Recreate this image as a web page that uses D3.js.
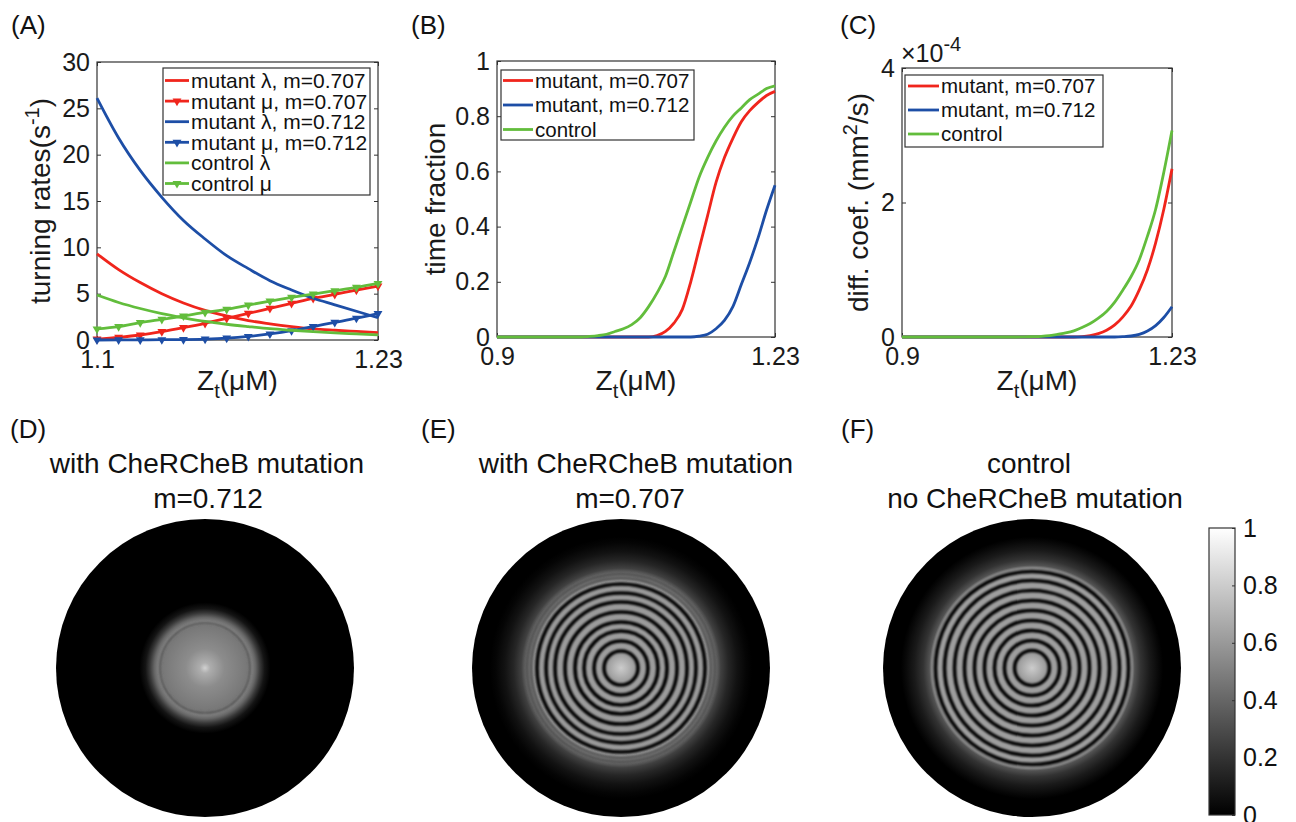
<!DOCTYPE html>
<html>
<head>
<meta charset="utf-8">
<script src="https://cdnjs.cloudflare.com/ajax/libs/d3/7.8.5/d3.min.js"></script>
<style>
  body { margin: 0; background: #fff; }
  svg { font-family: "Liberation Sans", Arial, Helvetica, sans-serif; }
</style>
</head>
<body>
<div id="fig"></div>
<script>
// ---- panel A: turning rates ----
const zA = [1.10, 1.11, 1.12, 1.13, 1.14, 1.15, 1.16, 1.17, 1.18, 1.19, 1.20, 1.21, 1.22, 1.23];
const lamM707 = [9.3, 7.6, 6.2, 5.0, 4.0, 3.2, 2.6, 2.1, 1.75, 1.45, 1.2, 1.05, 0.92, 0.8];
const muM707  = [0.1, 0.29, 0.54, 0.9, 1.33, 1.8, 2.34, 2.87, 3.41, 3.95, 4.49, 4.92, 5.39, 5.82];
const lamM712 = [26.1, 21.8, 18.3, 15.4, 12.9, 10.9, 9.1, 7.7, 6.4, 5.4, 4.5, 3.8, 3.1, 2.4];
const muM712  = [0.0, 0.01, 0.02, 0.03, 0.05, 0.1, 0.2, 0.38, 0.65, 1.0, 1.45, 1.9, 2.35, 2.85];
const lamCtrl = [4.85, 4.05, 3.4, 2.85, 2.4, 2.0, 1.7, 1.45, 1.22, 1.05, 0.9, 0.77, 0.66, 0.56];
const muCtrl  = [1.19, 1.44, 1.87, 2.23, 2.59, 2.98, 3.31, 3.77, 4.2, 4.6, 4.96, 5.32, 5.68, 6.1];
const xTicksA = [1.1, 1.23];
const yTicksA = [0, 5, 10, 15, 20, 25, 30];

// ---- panels B, C: shared Zt grid ----
const zB = [0.90, 0.91, 0.92, 0.93, 0.94, 0.95, 0.96, 0.97, 0.98, 0.99, 1.00, 1.01, 1.02, 1.03, 1.04, 1.05, 1.06,
            1.07, 1.08, 1.09, 1.10, 1.11, 1.12, 1.13, 1.14, 1.15, 1.16, 1.17, 1.18, 1.19, 1.20, 1.21, 1.22, 1.23];
const fracM707 = [0, 0, 0, 0, 0, 0, 0, 0, 0, 0, 0, 0, 0, 0, 0, 0, 0, 0, 0,
                  0.005, 0.02, 0.05, 0.10, 0.20, 0.32, 0.44, 0.56, 0.65, 0.72, 0.78, 0.82, 0.85, 0.875, 0.89];
const fracM712 = [0, 0, 0, 0, 0, 0, 0, 0, 0, 0, 0, 0, 0, 0, 0, 0, 0, 0, 0, 0, 0, 0, 0, 0,
                  0.003, 0.01, 0.03, 0.06, 0.11, 0.19, 0.27, 0.36, 0.46, 0.55];
const fracCtrl = [0, 0, 0, 0, 0, 0, 0, 0, 0, 0, 0,
                  0.002, 0.005, 0.01, 0.02, 0.03, 0.045, 0.07, 0.11, 0.16, 0.22, 0.31, 0.40, 0.49, 0.58, 0.65,
                  0.71, 0.76, 0.80, 0.83, 0.86, 0.88, 0.90, 0.91];
// diffusion coefficient, in units of 1e-4 mm^2/s
const diffM707 = [0, 0, 0, 0, 0, 0, 0, 0, 0, 0, 0, 0, 0, 0, 0, 0, 0, 0, 0, 0, 0, 0,
                  0.005, 0.02, 0.05, 0.1, 0.18, 0.3, 0.46, 0.7, 1.0, 1.4, 1.9, 2.5];
const diffM712 = [0, 0, 0, 0, 0, 0, 0, 0, 0, 0, 0, 0, 0, 0, 0, 0, 0, 0, 0, 0, 0, 0, 0, 0, 0, 0, 0,
                  0.005, 0.015, 0.04, 0.09, 0.17, 0.29, 0.45];
const diffCtrl = [0, 0, 0, 0, 0, 0, 0, 0, 0, 0, 0, 0, 0, 0, 0,
                  0.002, 0.005, 0.01, 0.02, 0.04, 0.06, 0.09, 0.14, 0.2, 0.28, 0.38, 0.52, 0.7, 0.9, 1.15,
                  1.5, 1.9, 2.45, 3.07];
const xTicksB = [0.9, 1.23];
const yTicksB = [0, 0.2, 0.4, 0.6, 0.8, 1];
const yTicksC = [0, 2, 4];

// ---- panels D, E, F: radial density profiles (r as fraction of dish radius, normalised density) ----
const profR_D = [0, 0.035, 0.13, 0.28, 0.31, 0.34, 0.37, 0.40, 0.44];
const profV_D = [0.82, 0.68, 0.55, 0.47, 0.52, 0.40, 0.22, 0.08, 0];
const ringsD = [0.302];
const profR_E = [0, 0.04, 0.09, 0.58, 0.60, 0.64, 0.67, 0.72, 0.78, 0.84, 0.88];
const profV_E = [0.80, 0.72, 0.62, 0.60, 0.50, 0.40, 0.25, 0.15, 0.07, 0.02, 0];
const ringsE = [0.114, 0.181, 0.248, 0.309, 0.376, 0.443, 0.503, 0.564];
const faintE = [0.604, 0.631];
const profR_F = [0, 0.04, 0.09, 0.655, 0.675, 0.69, 0.73, 0.79, 0.85, 0.88];
const profV_F = [0.80, 0.72, 0.62, 0.62, 0.50, 0.32, 0.20, 0.10, 0.03, 0];
const ringsF = [0.117, 0.185, 0.252, 0.319, 0.386, 0.453, 0.520, 0.587, 0.648];
const cbarTicks = [0, 0.2, 0.4, 0.6, 0.8, 1];

const RED = "#f0251c", BLUE = "#1d4ea6", GREEN = "#62bd3c";
const AXC = "#333333";

const svg = d3.select("#fig").append("svg")
    .attr("width", 1296)
    .attr("height", 822);
const defs = svg.append("defs");
const fmt = d3.format("~g");

// text with sub/superscripts: parts = [[text, "sub"|"sup"|null], ...]
function rich(sel, parts, small) {
    let shift = 0;
    parts.forEach(([t, kind]) => {
        const want = kind === "sub" ? 8 : kind === "sup" ? -11 : 0;
        const ts = sel.append("tspan").attr("dy", want - shift).text(t);
        if (kind) ts.attr("font-size", small);
        shift = want;
    });
    return sel;
}

function frame(p) {
    const g = svg.append("g");
    const x = d3.scaleLinear().domain(p.xd).range([p.l, p.r]);
    const y = d3.scaleLinear().domain(p.yd).range([p.b, p.t]);

    const style = a => {
        a.attr("font-size", 25).attr("font-family", null);
        a.select(".domain").remove();
        a.selectAll("line").attr("stroke", AXC);
        a.selectAll("text").attr("fill", "#1a1a1a");
    };
    g.append("g").attr("transform", `translate(0,${p.b})`)
        .call(d3.axisBottom(x).tickValues(p.xt).tickFormat(fmt).tickSizeInner(-4).tickSizeOuter(0).tickPadding(10))
        .call(style);
    g.append("g").attr("transform", `translate(0,${p.t})`)
        .call(d3.axisTop(x).tickValues(p.xt).tickFormat("").tickSizeInner(-4).tickSizeOuter(0))
        .call(style);
    g.append("g").attr("transform", `translate(${p.l},0)`)
        .call(d3.axisLeft(y).tickValues(p.yt).tickFormat(fmt).tickSizeInner(-4).tickSizeOuter(0).tickPadding(7))
        .call(style);
    g.append("g").attr("transform", `translate(${p.r},0)`)
        .call(d3.axisRight(y).tickValues(p.yt).tickFormat("").tickSizeInner(-4).tickSizeOuter(0))
        .call(style);

    g.append("rect")
        .attr("x", p.l).attr("y", p.t)
        .attr("width", p.r - p.l).attr("height", p.b - p.t)
        .attr("fill", "none").attr("stroke", AXC).attr("stroke-width", 1.2);

    // x label Zt(μM)
    rich(g.append("text")
        .attr("x", (p.l + p.r) / 2).attr("y", 390)
        .attr("text-anchor", "middle").attr("font-size", 28).attr("fill", "#1a1a1a"),
        [["Z"], ["t", "sub"], ["(μM)"]], 20);

    // y label
    rich(g.append("text")
        .attr("transform", `translate(${p.ylx},${(p.t + p.b) / 2}) rotate(-90)`)
        .attr("text-anchor", "middle").attr("font-size", 28).attr("fill", "#1a1a1a"),
        p.ylabel, 20);

    // panel letter
    svg.append("text").attr("x", p.lx).attr("y", 34)
        .attr("font-size", 26).attr("fill", "#111").text(p.letter);

    return { g, x, y };
}

const triangle = d3.symbol().type(d3.symbolTriangle).size(34);

function drawSeries(f, xs, s) {
    const line = d3.line()
        .x((d, i) => f.x(xs[i]))
        .y(d => f.y(d))
        .curve(d3.curveMonotoneX);
    f.g.append("path")
        .attr("d", line(s.values))
        .attr("fill", "none")
        .attr("stroke", s.color)
        .attr("stroke-width", 2.8)
        .attr("stroke-linejoin", "round");
    if (s.marker) {
        f.g.selectAll(null)
            .data(s.values)
            .enter()
            .append("path")
            .attr("d", triangle)
            .attr("transform", (d, i) => `translate(${f.x(xs[i])},${f.y(d)}) rotate(180)`)
            .attr("fill", s.color);
    }
}

function legend(box, rows, fs, sample) {
    const g = svg.append("g");
    g.append("rect")
        .attr("x", box.x).attr("y", box.y)
        .attr("width", box.w).attr("height", box.h)
        .attr("fill", "#fff").attr("stroke", AXC).attr("stroke-width", 1.2);
    rows.forEach((s, i) => {
        const cy = box.y0 + i * box.dy;
        g.append("line")
            .attr("x1", sample[0]).attr("x2", sample[1])
            .attr("y1", cy).attr("y2", cy)
            .attr("stroke", s.color).attr("stroke-width", 2.8);
        if (s.marker) {
            g.append("path").attr("d", triangle)
                .attr("transform", `translate(${(sample[0] + sample[1]) / 2},${cy}) rotate(180)`)
                .attr("fill", s.color);
        }
        g.append("text")
            .attr("x", sample[1] + 2).attr("y", cy).attr("dy", "0.36em")
            .attr("font-size", fs).attr("fill", "#111")
            .text(s.label);
    });
}

// ---------- (A) ----------
const fA = frame({
    l: 97, r: 378, t: 62, b: 340, xd: [1.1, 1.23], yd: [0, 30],
    xt: xTicksA, yt: yTicksA, letter: "(A)", lx: 11, ylx: 50,
    ylabel: [["turning rates(s"], ["-1", "sup"], [")"]]
});
const seriesA = [
    { label: "mutant λ, m=0.707", values: lamM707, color: RED },
    { label: "mutant μ, m=0.707", values: muM707, color: RED, marker: true },
    { label: "mutant λ, m=0.712", values: lamM712, color: BLUE },
    { label: "mutant μ, m=0.712", values: muM712, color: BLUE, marker: true },
    { label: "control λ", values: lamCtrl, color: GREEN },
    { label: "control μ", values: muCtrl, color: GREEN, marker: true }
];
seriesA.forEach(s => drawSeries(fA, zA, s));
legend({ x: 163, y: 68, w: 207, h: 127, y0: 80.5, dy: 20.6 }, seriesA, 21, [165, 189]);

// ---------- (B) ----------
const fB = frame({
    l: 497, r: 775, t: 61, b: 337, xd: [0.9, 1.23], yd: [0, 1],
    xt: xTicksB, yt: yTicksB, letter: "(B)", lx: 411, ylx: 445,
    ylabel: [["time fraction"]]
});
const seriesB = [
    { label: "mutant, m=0.707", values: fracM707, color: RED },
    { label: "mutant, m=0.712", values: fracM712, color: BLUE },
    { label: "control", values: fracCtrl, color: GREEN }
];
seriesB.forEach(s => drawSeries(fB, zB, s));
legend({ x: 501, y: 70, w: 193, h: 70, y0: 80.5, dy: 24.5 }, seriesB, 20.5, [503, 533]);

// ---------- (C) ----------
const fC = frame({
    l: 902, r: 1172, t: 68, b: 337, xd: [0.9, 1.23], yd: [0, 4],
    xt: xTicksB, yt: yTicksC, letter: "(C)", lx: 840, ylx: 868,
    ylabel: [["diff. coef. (mm"], ["2", "sup"], ["/s)"]]
});
const seriesC = [
    { label: "mutant, m=0.707", values: diffM707, color: RED },
    { label: "mutant, m=0.712", values: diffM712, color: BLUE },
    { label: "control", values: diffCtrl, color: GREEN }
];
seriesC.forEach(s => drawSeries(fC, zB, s));
legend({ x: 905, y: 75, w: 198, h: 72, y0: 86, dy: 24 }, seriesC, 20.5, [908, 939]);
rich(svg.append("text").attr("x", 901).attr("y", 62).attr("font-size", 25).attr("fill", "#1a1a1a"),
    [["×10"], ["-4", "sup"]], 20);

// ---------- (D) (E) (F) dishes ----------
const gray = d3.scaleLinear().domain([0, 1]).range(["#000", "#fff"]);
const R = 149;
const rScale = d3.scaleLinear().domain([0, 1]).range([0, R]);

const blur = defs.append("filter").attr("id", "soft")
    .attr("x", "-10%").attr("y", "-10%").attr("width", "120%").attr("height", "120%");
blur.append("feGaussianBlur").attr("stdDeviation", 1.1);

function dish(p) {
    const grad = defs.append("radialGradient").attr("id", p.id)
        .attr("gradientUnits", "userSpaceOnUse")
        .attr("cx", p.cx).attr("cy", p.cy).attr("r", rScale(1));
    grad.selectAll("stop")
        .data(p.profR)
        .enter()
        .append("stop")
        .attr("offset", d => rScale(d) / rScale(1))
        .attr("stop-color", (d, i) => gray(p.profV[i]));

    const g = svg.append("g");
    g.append("circle")
        .attr("cx", p.cx).attr("cy", p.cy).attr("r", rScale(1))
        .attr("fill", `url(#${p.id})`);

    const rg = g.append("g").attr("filter", "url(#soft)");
    rg.selectAll(null)
        .data(p.rings)
        .enter()
        .append("circle")
        .attr("cx", p.cx).attr("cy", p.cy)
        .attr("r", d => rScale(d))
        .attr("fill", "none")
        .attr("stroke", gray(p.ringV))
        .attr("stroke-width", p.ringW);
    if (p.faint) {
        rg.selectAll(null)
            .data(p.faint)
            .enter()
            .append("circle")
            .attr("cx", p.cx).attr("cy", p.cy)
            .attr("r", d => rScale(d))
            .attr("fill", "none")
            .attr("stroke", gray(0.3))
            .attr("stroke-width", 2);
    }

    p.title.forEach((t, i) => {
        svg.append("text")
            .attr("x", p.tx[i]).attr("y", 473 + i * 35)
            .attr("text-anchor", "middle")
            .attr("font-size", 28).attr("fill", "#111")
            .text(t);
    });
    svg.append("text").attr("x", p.lx).attr("y", 438)
        .attr("font-size", 26).attr("fill", "#111").text(p.letter);
}

dish({ id: "gD", cx: 205, cy: 668, profR: profR_D, profV: profV_D, rings: ringsD, ringV: 0.3, ringW: 1.6,
       title: ["with CheRCheB mutation", "m=0.712"], tx: [207, 208], letter: "(D)", lx: 10 });
dish({ id: "gE", cx: 621, cy: 668, profR: profR_E, profV: profV_E, rings: ringsE, ringV: 0.0, ringW: 3.6,
       faint: faintE,
       title: ["with CheRCheB mutation", "m=0.707"], tx: [636, 630], letter: "(E)", lx: 421 });
dish({ id: "gF", cx: 1032, cy: 668, profR: profR_F, profV: profV_F, rings: ringsF, ringV: 0.0, ringW: 3.6,
       title: ["control", "no CheRCheB mutation"], tx: [1029, 1035], letter: "(F)", lx: 841 });

// ---------- colorbar ----------
const cb = { x: 1209, w: 26, t: 528, b: 815 };
const cbScale = d3.scaleLinear().domain([0, 1]).range([cb.b, cb.t]);
const lg = defs.append("linearGradient").attr("id", "cbar")
    .attr("x1", 0).attr("y1", 1).attr("x2", 0).attr("y2", 0);
lg.selectAll("stop")
    .data(cbarTicks)
    .enter()
    .append("stop")
    .attr("offset", d => d)
    .attr("stop-color", d => gray(d));
svg.append("rect")
    .attr("x", cb.x).attr("y", cb.t)
    .attr("width", cb.w).attr("height", cb.b - cb.t)
    .attr("fill", "url(#cbar)")
    .attr("stroke", AXC).attr("stroke-width", 1.2);
const cbAxis = svg.append("g").attr("transform", `translate(${cb.x + cb.w},0)`)
    .call(d3.axisRight(cbScale).tickValues(cbarTicks).tickFormat(fmt).tickSizeInner(-3).tickSizeOuter(0).tickPadding(8));
cbAxis.attr("font-size", 25).attr("font-family", null);
cbAxis.select(".domain").remove();
cbAxis.selectAll("line").attr("stroke", AXC);
cbAxis.selectAll("text").attr("fill", "#111");
</script>
</body>
</html>
